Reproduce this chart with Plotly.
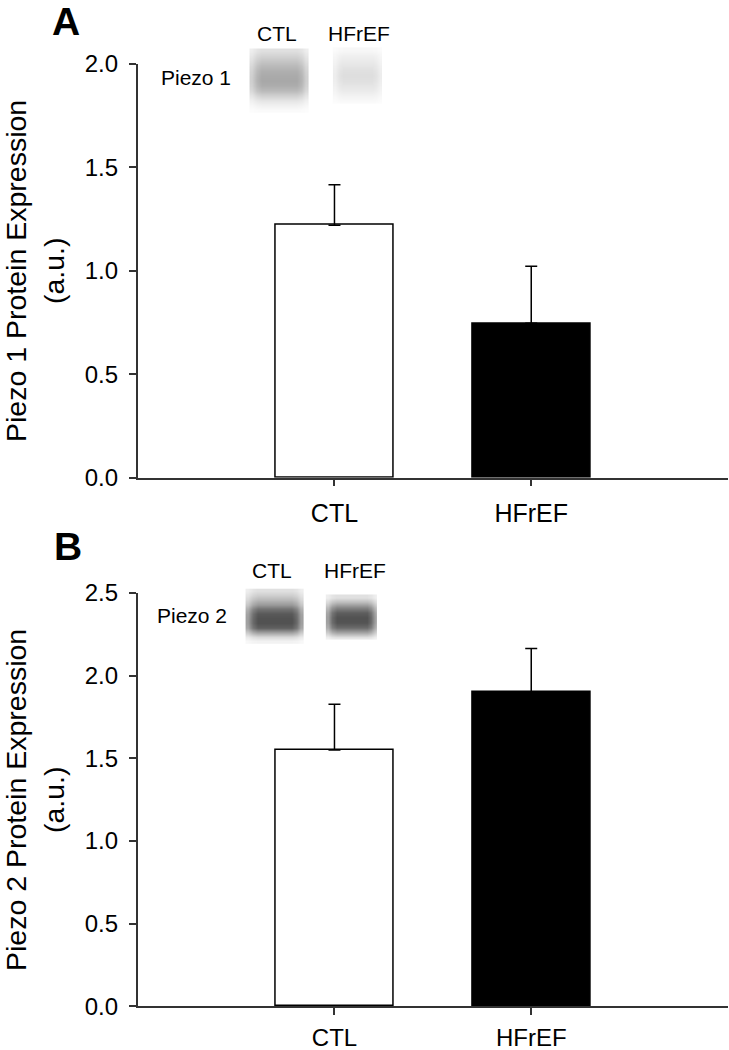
import numpy as np
import plotly.graph_objects as go

W, H = 729, 1050

categories = ["CTL", "HFrEF"]
piezo1_mean = [1.22, 0.746]
piezo1_sem = [0.195, 0.275]
piezo2_mean = [1.55, 1.90]
piezo2_sem = [0.277, 0.265]
bar_fill = ["white", "black"]

y1_ticks = [0.0, 0.5, 1.0, 1.5, 2.0]
y2_ticks = [0.0, 0.5, 1.0, 1.5, 2.0, 2.5]

# western blot band darkness profiles (top -> bottom), 0 = white, 1 = black
blotA_ctl = [0.12, 0.17, 0.22, 0.27, 0.31, 0.33, 0.34, 0.32, 0.27, 0.18, 0.10, 0.05, 0.02]
blotA_hf = [0.03, 0.06, 0.08, 0.10, 0.12, 0.13, 0.12, 0.10, 0.08, 0.05, 0.02]
blotB_ctl = [0.12, 0.20, 0.28, 0.40, 0.55, 0.65, 0.68, 0.68, 0.62, 0.40, 0.15, 0.05]
blotB_hf = [0.12, 0.28, 0.48, 0.63, 0.68, 0.67, 0.58, 0.35, 0.10]
blot_cols = [0.55, 0.85, 1, 1, 1, 1, 1, 1, 1, 1, 0.85, 0.55]

FONT = "Liberation Sans, Arial, sans-serif"

fig = go.Figure()

def add_bars(means, sems, xa, ya):
    fig.add_trace(go.Bar(
        x=categories, y=means, width=0.6,
        marker=dict(color=bar_fill, line=dict(color="black", width=1.5)),
        error_y=dict(type="data", array=sems, arrayminus=[0, 0], symmetric=False,
                     color="black", thickness=1.5, width=6),
        xaxis=xa, yaxis=ya, showlegend=False, hoverinfo="skip"))

add_bars(piezo1_mean, piezo1_sem, "x", "y")
add_bars(piezo2_mean, piezo2_sem, "x2", "y2")

def add_blot(profile, x0, x1, y0, y1):
    z = np.outer(np.array(profile), np.array(blot_cols))
    xs = np.linspace(x0, x1, len(blot_cols))
    ys = np.linspace(y0, y1, len(profile))
    fig.add_trace(go.Heatmap(
        z=z, x=xs, y=ys, zmin=0, zmax=1, zsmooth="best",
        colorscale=[[0, "white"], [1, "black"]], showscale=False,
        xaxis="x3", yaxis="y3", hoverinfo="skip"))

add_blot(blotA_ctl, 252, 306, 51, 110)
add_blot(blotA_hf, 335, 380, 50, 101)
add_blot(blotB_ctl, 248, 301, 591, 641)
add_blot(blotB_hf, 328, 375, 597, 637)

px = lambda v: v / W
py = lambda v: 1 - v / H

def axis_common(size):
    return dict(showline=True, linecolor="#333333", linewidth=1.5,
                ticks="outside", ticklen=7, tickwidth=1.5, tickcolor="#333333",
                showgrid=False, zeroline=False, automargin=False,
                tickfont=dict(family=FONT, size=size, color="black"))

x_dom = [px(137.7), px(728)]
fig.update_layout(
    width=W, height=H,
    margin=dict(l=0, r=0, t=0, b=0, autoexpand=False),
    paper_bgcolor="white", plot_bgcolor="rgba(0,0,0,0)",
    bargap=0,
    xaxis=dict(domain=x_dom, range=[-1, 2], anchor="y", ticklabelstandoff=6, **axis_common(25)),
    yaxis=dict(domain=[py(477.7), py(63.7)], range=[0, 2.0], anchor="x",
               tickvals=y1_ticks, ticktext=[f"{v:.1f}" for v in y1_ticks], ticklabelstandoff=6, **axis_common(24)),
    xaxis2=dict(domain=x_dom, range=[-1, 2], anchor="y2", ticklabelstandoff=2, **axis_common(24)),
    yaxis2=dict(domain=[py(1006.3), py(593)], range=[0, 2.5], anchor="x2",
                tickvals=y2_ticks, ticktext=[f"{v:.1f}" for v in y2_ticks], ticklabelstandoff=6, **axis_common(24)),
    xaxis3=dict(domain=[0, 1], range=[0, W], visible=False, anchor="y3", automargin=False),
    yaxis3=dict(domain=[0, 1], range=[H, 0], visible=False, anchor="x3", automargin=False),
)

def ann(text, x, y, size, bold=False, angle=0):
    fig.add_annotation(text=f"<b>{text}</b>" if bold else text, x=px(x), y=py(y),
                       xref="paper", yref="paper", showarrow=False,
                       xanchor="center", yanchor="middle", textangle=angle,
                       font=dict(family=FONT, size=size, color="black"))

# panel A
ann("A", 66, 22, 39, bold=True)
ann("CTL", 277, 33, 21)
ann("HFrEF", 359, 33, 21)
ann("Piezo 1", 196, 77, 21)
ann("Piezo 1 Protein Expression", 16, 271, 28.5, angle=-90)
ann("(a.u.)", 54, 271, 28.5, angle=-90)

# panel B
ann("B", 68, 546, 39, bold=True)
ann("CTL", 272, 570, 21)
ann("HFrEF", 355, 570, 21)
ann("Piezo 2", 192, 615, 21)
ann("Piezo 2 Protein Expression", 16, 800, 28.5, angle=-90)
ann("(a.u.)", 54, 800, 28.5, angle=-90)

fig.write_html("out.html", config={"displayModeBar": False},
               post_script="document.body.style.margin='0';document.body.style.overflow='hidden';")
